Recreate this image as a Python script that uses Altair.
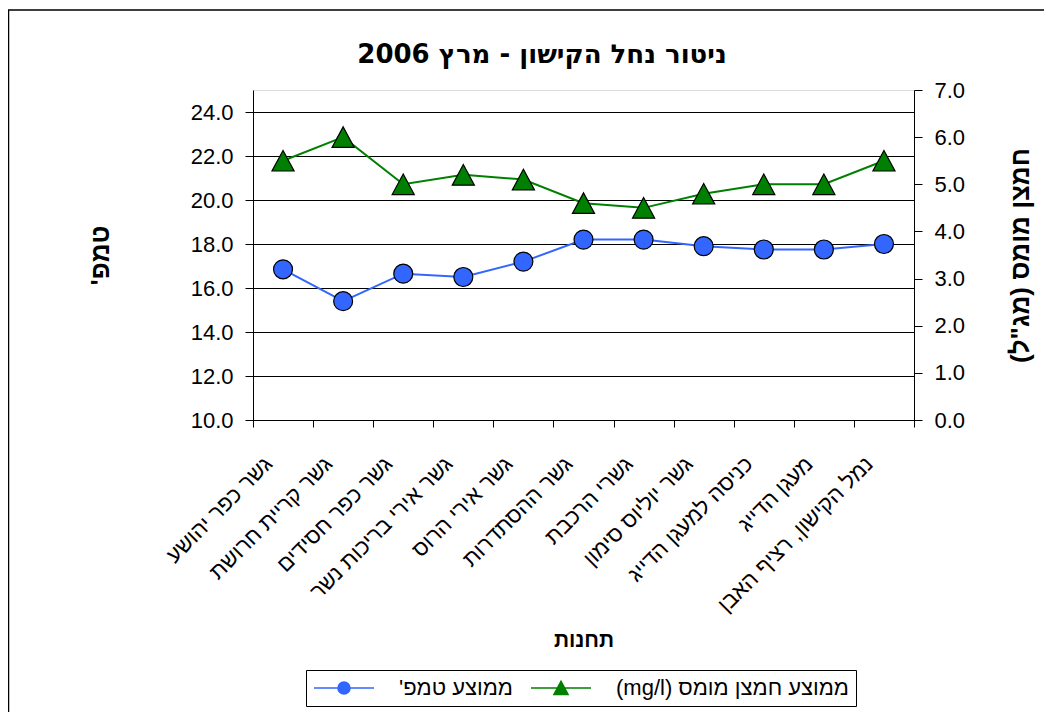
import altair as alt
import pandas as pd

RLE, PDF = "\u202b", "\u202c"

stations = [
    "גשר כפר יהושע",
    "גשר קריית חרושת",
    "גשר כפר חסידים",
    "גשר אירי בריכות נשר",
    "גשר אירי הרוס",
    "גשר ההסתדרות",
    "גשרי הרכבת",
    "גשר יוליוס סימון",
    "כניסה למעגן הדייג",
    "מעגן הדייג",
    "נמל הקישון, רציף האבן",
]
temp_values = [16.85, 15.4, 16.65, 16.5, 17.2, 18.2, 18.2, 17.9, 17.75, 17.75, 18.0]
acid_values = [5.5, 6.0, 5.0, 5.2, 5.1, 4.6, 4.5, 4.8, 5.0, 5.0, 5.5]

series_names = [RLE + "ממוצע טמפ'" + PDF, RLE + "ממוצע חמצן מומס (mg/l)" + PDF]
series_colors = ["#3366FF", "#008000"]

temp_ticks = [10, 12, 14, 16, 18, 20, 22, 24]
acid_ticks = [0, 1, 2, 3, 4, 5, 6, 7]

title_text = "ניטור נחל הקישון - מרץ 2006"
x_title = "תחנות"
left_title = RLE + "טמפ'" + PDF
right_title = RLE + 'חמצן מומס (מג"ל)' + PDF

# marker shapes (unit square paths)
circle_path = "M-0.6,0A0.6,0.6,0,1,1,0.6,0A0.6,0.6,0,1,1,-0.6,0Z"
triangle_path = "M0,-0.65L0.7,0.65L-0.7,0.65Z"
# legend symbols: line segment with marker in the middle
legend_paths = [
    "M-3,0H-0.6M0.6,0H3" + circle_path,
    "M-3,0H-0.35M0.35,0H3" + triangle_path,
]

temp_df = pd.DataFrame({"station": stations, "value": temp_values})
acid_df = pd.DataFrame({"station": stations, "value": acid_values})
legend_df = pd.DataFrame({"series": series_names})
one_df = pd.DataFrame({"k": [0]})

FONT = "DejaVu Sans"
POINT_SIZE = 1000

x_enc = alt.X(
    "station:N", sort=stations,
    scale=alt.Scale(type="band", paddingInner=0, paddingOuter=0),
    axis=alt.Axis(title=x_title, labelAngle=-45, labelAlign="right", labelBaseline="middle",
                  labelFontSize=22, labelPadding=33, labelOffset=-15, labelLimit=600,
                  labelOverlap=False, tickBand="extent", tickSize=7, tickColor="black",
                  domainColor="black", titleFontSize=21, titleFontWeight="bold",
                  titleY=220, titleBaseline="middle", grid=False),
)

y_temp = alt.Y(
    "value:Q",
    scale=alt.Scale(domain=[10, 25], nice=False, zero=False),
    axis=alt.Axis(values=temp_ticks, format=".1f", grid=True, gridColor="black", gridWidth=1,
                  tickColor="black", tickSize=8, domainColor="black", labelFontSize=22,
                  labelPadding=12, title=left_title, titleFontSize=26, titleFontWeight="bold",
                  titleX=-153, titleBaseline="middle", titleAngle=270),
)
y_acid = alt.Y(
    "value:Q",
    scale=alt.Scale(domain=[0, 7], nice=False, zero=False),
    axis=alt.Axis(orient="right", values=acid_ticks, format=".1f", grid=False,
                  tickColor="black", tickSize=8, domainColor="black", labelFontSize=22,
                  labelPadding=12, title=right_title, titleFontSize=26, titleFontWeight="bold",
                  titleX=106, titleBaseline="middle", titleAngle=270),
)

temp_line = alt.Chart(temp_df).mark_line(strokeWidth=2, color=series_colors[0]).encode(
    x=x_enc, y=y_temp)
temp_pts = alt.Chart(temp_df).mark_point(
    filled=True, fill=series_colors[0], stroke="black", strokeWidth=1.2,
    size=POINT_SIZE, opacity=1, shape=circle_path).encode(x=x_enc, y=y_temp)
acid_line = alt.Chart(acid_df).mark_line(strokeWidth=2, color=series_colors[1]).encode(
    x=x_enc, y=y_acid)
acid_pts = alt.Chart(acid_df).mark_point(
    filled=True, fill=series_colors[1], stroke="black", strokeWidth=1.2,
    size=POINT_SIZE, opacity=1, shape=triangle_path).encode(x=x_enc, y=y_acid)

legend_cfg = dict(orient="none", legendX=53, legendY=580, title=None, direction="horizontal",
                  symbolSize=400, symbolOffset=20, symbolStrokeWidth=1.6, symbolOpacity=1,
                  labelFontSize=22, labelOffset=44, labelLimit=600, columnPadding=14,
                  padding=7, strokeColor="black", fillColor="white")
legend_layer = alt.Chart(legend_df).mark_point(filled=True, opacity=0).encode(
    fill=alt.Fill("series:N", scale=alt.Scale(domain=series_names, range=series_colors),
                  legend=alt.Legend(**legend_cfg)),
    stroke=alt.Stroke("series:N", scale=alt.Scale(domain=series_names, range=series_colors),
                      legend=alt.Legend(**legend_cfg)),
    shape=alt.Shape("series:N", scale=alt.Scale(domain=series_names, range=legend_paths),
                    legend=alt.Legend(**legend_cfg)),
)

frame = alt.Chart(one_df).mark_rect(fillOpacity=0, stroke="black", strokeWidth=1.5).encode(
    x=alt.value(-244.5), x2=alt.value(900), y=alt.value(-80), y2=alt.value(800))

title_mark = alt.Chart(one_df).mark_text(
    text=title_text, font=FONT, fontSize=26, fontWeight="bold", color="black",
    align="center", baseline="middle").encode(x=alt.value(289), y=alt.value(-35))

chart = alt.layer(
    frame,
    title_mark,
    legend_layer,
    alt.layer(temp_line, temp_pts),
    alt.layer(acid_line, acid_pts),
).resolve_scale(y="independent").properties(
    width=661, height=330,
    autosize=alt.AutoSizeParams(type="none"),
    padding={"left": 245, "top": 82, "right": 130, "bottom": 292},
).configure_view(stroke="#808080", strokeWidth=1).configure_axis(
    labelFont=FONT, titleFont=FONT, labelColor="black", titleColor="black"
).configure_legend(labelFont=FONT, labelColor="black").configure(background="white")

chart.save("out.html", embed_options={"renderer": "svg", "actions": False})
